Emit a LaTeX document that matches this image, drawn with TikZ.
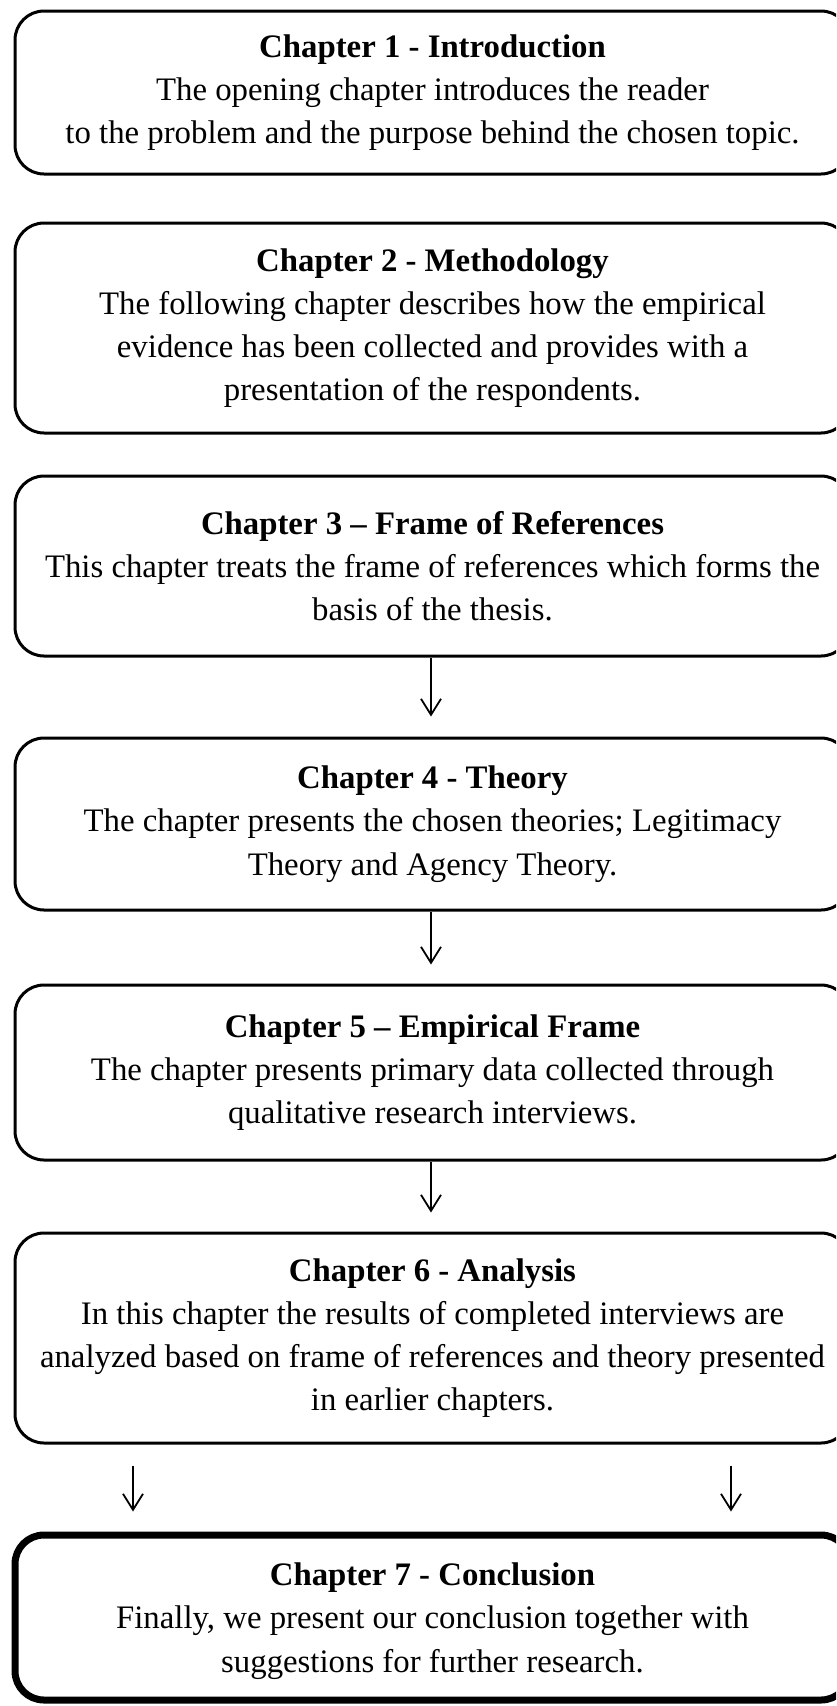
\documentclass[tikz,border=0pt]{standalone}
\usepackage{fontspec}
\setmainfont{Liberation Serif}
\usetikzlibrary{arrows.meta}
\tikzset{
  chapbox/.style={draw=black, line width=3pt, rounded corners=29pt, minimum width=835pt,
    inner sep=0pt, align=center, font=\fontsize{32.8}{43.2}\selectfont},
  finalbox/.style={chapbox, line width=7pt},
  arr/.style={line width=1.8pt, -{Straight Barb[length=16pt,width=20pt]}}
}
\begin{document}
\begin{tikzpicture}[x=1pt,y=-1pt]
\useasboundingbox (0,0) rectangle (836,1706);
\clip (0,0) rectangle (836,1706);
\fill[white] (0,0) rectangle (836,1706);
\node[chapbox, minimum height=163pt] (b1) at (432.5,92.5)
  {\textbf{Chapter 1 - Introduction}\\The opening chapter introduces the reader\\to the problem and the purpose behind the chosen topic.};
\node[chapbox, minimum height=210pt] (b2) at (432.5,328)
  {\textbf{Chapter 2 - Methodology}\\The following chapter describes how the empirical\\evidence has been collected and provides with a\\presentation of the respondents.};
\node[chapbox, minimum height=180pt] (b3) at (432.5,566)
  {\textbf{Chapter 3 – Frame of References}\\This chapter treats the frame of references which forms the\\basis of the thesis.};
\node[chapbox, minimum height=172pt] (b4) at (432.5,824)
  {\textbf{Chapter 4 - Theory}\\The chapter presents the chosen theories; Legitimacy\\Theory and Agency Theory.};
\node[chapbox, minimum height=175pt] (b5) at (432.5,1072.5)
  {\textbf{Chapter 5 – Empirical Frame}\\The chapter presents primary data collected through\\qualitative research interviews.};
\node[chapbox, minimum height=210pt] (b6) at (432.5,1338)
  {\textbf{Chapter 6 - Analysis}\\In this chapter the results of completed interviews are\\analyzed based on frame of references and theory presented\\in earlier chapters.};
\node[finalbox, minimum height=165pt, text depth=-10pt] (b7) at (432.5,1617.5)
  {\textbf{Chapter 7 - Conclusion}\\Finally, we present our conclusion together with\\suggestions for further research.};
\draw[arr] ([xshift=-1.5pt]b3.south) -- ([xshift=-1.5pt,yshift=20pt]b4.north);
\draw[arr] ([xshift=-1.5pt]b4.south) -- ([xshift=-1.5pt,yshift=19pt]b5.north);
\draw[arr] ([xshift=-1.5pt]b5.south) -- ([xshift=-1.5pt,yshift=19pt]b6.north);
\draw[arr] ([xshift=-299.5pt,yshift=-21pt]b6.south) -- ([xshift=-299.5pt,yshift=20pt]b7.north);
\draw[arr] ([xshift=298.5pt,yshift=-21pt]b6.south) -- ([xshift=298.5pt,yshift=20pt]b7.north);
\end{tikzpicture}
\end{document}
